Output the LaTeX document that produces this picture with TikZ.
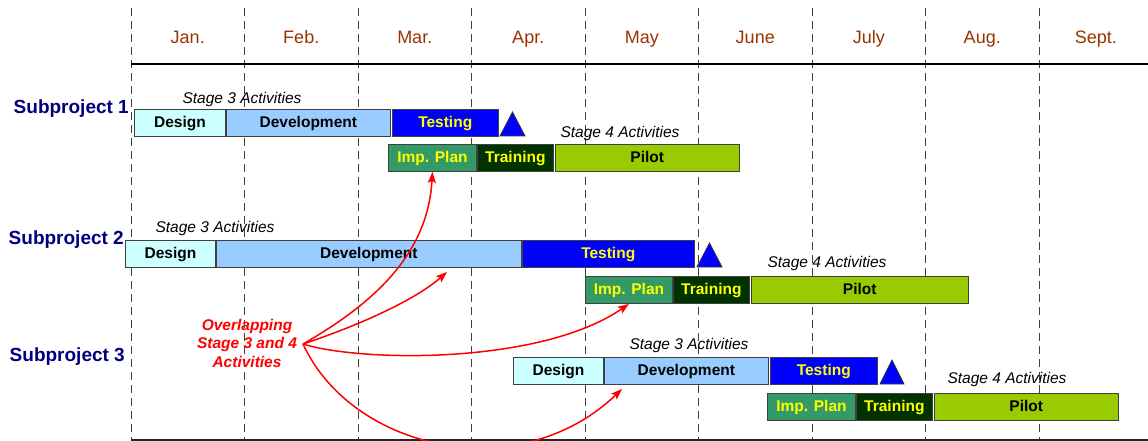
\documentclass[tikz,border=0pt]{standalone}
\usepackage{fontspec}
\setmainfont{Liberation Sans}
\usetikzlibrary{arrows.meta, positioning}

\definecolor{monthcol}{HTML}{993300}
\definecolor{subcol}{HTML}{000080}
\definecolor{designcol}{HTML}{CCFFFF}
\definecolor{develcol}{HTML}{99CCFF}
\definecolor{testcol}{HTML}{0000FF}
\definecolor{textyellow}{HTML}{FFFF00}
\definecolor{impcol}{HTML}{339966}
\definecolor{traincol}{HTML}{003300}
\definecolor{pilotcol}{HTML}{99CC00}

\begin{document}
\begin{tikzpicture}[
  x=1pt, y=-1pt,
  every node/.style={font=\fontsize{16}{18}\selectfont},
  month/.style={text=monthcol, anchor=base, font=\fontsize{18}{20}\selectfont},
  subproj/.style={text=subcol, anchor=base east, inner sep=0pt, font=\fontsize{19}{21}\selectfont\bfseries},
  stage/.style={anchor=base, font=\fontsize{15.5}{17}\selectfont\itshape},
  bar/.style={rectangle, draw=black!75, line width=0.9pt, minimum height=27pt, inner sep=0pt,
    text height=12.5pt, text depth=3pt, font=\fontsize{15.5}{18}\selectfont\bfseries},
  design/.style={bar, fill=designcol},
  devel/.style={bar, fill=develcol},
  testing/.style={bar, fill=testcol, text=textyellow},
  impplan/.style={bar, fill=impcol, text=textyellow},
  training/.style={bar, fill=traincol, text=textyellow},
  pilot/.style={bar, fill=pilotcol},
  milestone/.style={draw=black!80, line width=0.8pt, fill=testcol},
  grid/.style={draw=black!75, line width=0.9pt, dash pattern=on 8pt off 5pt},
  line/.style={-{Stealth[length=11pt, width=8pt, inset=2pt]}, red, line width=1.5pt}
]
\useasboundingbox (0,0) rectangle (1148,441);

\foreach \k in {0,...,8}
  \draw[grid] ({131+113.5*\k},8) -- ({131+113.5*\k},441);
\foreach \m [count=\i from 0] in {Jan., Feb., Mar., Apr., May, June, July, Aug., Sept.}
  \node[month] (m\i) at ({131+113.5*(\i+0.5)},44) {\m};
\draw[line width=1.5pt] (131,64) -- (1148,64);
\draw[line width=1.5pt, black!85] (131,440) -- (1148,440);

\node[subproj] (sub1) at (129,113.5) {Subproject 1};
\node[subproj] (sub2) at (124,244.5) {Subproject 2};
\node[subproj] (sub3) at (125,361.5) {Subproject 3};

\node[stage] (s3a) at (242,104) {Stage 3 Activities};
\node[design, minimum width=91pt, anchor=north west] (des1) at (134,109) {Design};
\node[devel, minimum width=164pt, right=0pt of des1] (dev1) {Development};
\node[testing, minimum width=106pt, right=1pt of dev1] (test1) {Testing};
\draw[milestone] (500,136) -- (525,136) -- (512.5,112) -- cycle;
\node[stage] (s4a) at (620,138) {Stage 4 Activities};
\node[impplan, minimum width=88pt, anchor=north west] (imp1) at (388,144) {Imp. Plan};
\node[training, minimum width=76pt, right=0pt of imp1] (train1) {Training};
\node[pilot, minimum width=184pt, right=1pt of train1] (pilot1) {Pilot};

\node[stage] (s3b) at (215,232) {Stage 3 Activities};
\node[design, minimum width=90pt, anchor=north west] (des2) at (125,240) {Design};
\node[devel, minimum width=305pt, right=0pt of des2] (dev2) {Development};
\node[testing, minimum width=172pt, right=0pt of dev2] (test2) {Testing};
\draw[milestone] (697,267) -- (722,267) -- (709.5,243) -- cycle;
\node[stage] (s4b) at (827,267) {Stage 4 Activities};
\node[impplan, minimum width=87pt, anchor=north west] (imp2) at (585,276) {Imp. Plan};
\node[training, minimum width=76pt, right=0pt of imp2] (train2) {Training};
\node[pilot, minimum width=217pt, right=1pt of train2] (pilot2) {Pilot};

\node[stage] (s3c) at (689,349) {Stage 3 Activities};
\node[design, minimum width=90pt, anchor=north west] (des3) at (513,357) {Design};
\node[devel, minimum width=164pt, right=0pt of des3] (dev3) {Development};
\node[testing, minimum width=107pt, right=1pt of dev3] (test3) {Testing};
\draw[milestone] (880,384) -- (904,384) -- (892,360) -- cycle;
\node[stage] (s4c) at (1007,383) {Stage 4 Activities};
\node[impplan, minimum width=88pt, anchor=north west] (imp3) at (767,393) {Imp. Plan};
\node[training, minimum width=76pt, right=0pt of imp3] (train3) {Training};
\node[pilot, minimum width=184pt, right=1pt of train3] (pilot3) {Pilot};

\node[text=red, align=center, font=\fontsize{15.5}{18.5}\selectfont\bfseries\itshape] (overlap) at (247,343)
  {Overlapping\\Stage 3 and 4\\Activities};
\coordinate (src) at (303,344);
\coordinate (tip2) at (447,272);
\coordinate (tip4) at (622,389);

\begin{scope}
\clip (0,0) rectangle (1148,441);
\draw[line] (src) .. controls (380,300) and (428,250) .. (imp1.south);
\draw[line] (src) .. controls (360,325) and (415,300) .. (tip2);
\draw[line] (src) .. controls (360,362) and (540,365) .. (imp2.south);
\draw[line] (src) .. controls (352,450) and (518,488) .. (tip4);
\end{scope}

\end{tikzpicture}
\end{document}
